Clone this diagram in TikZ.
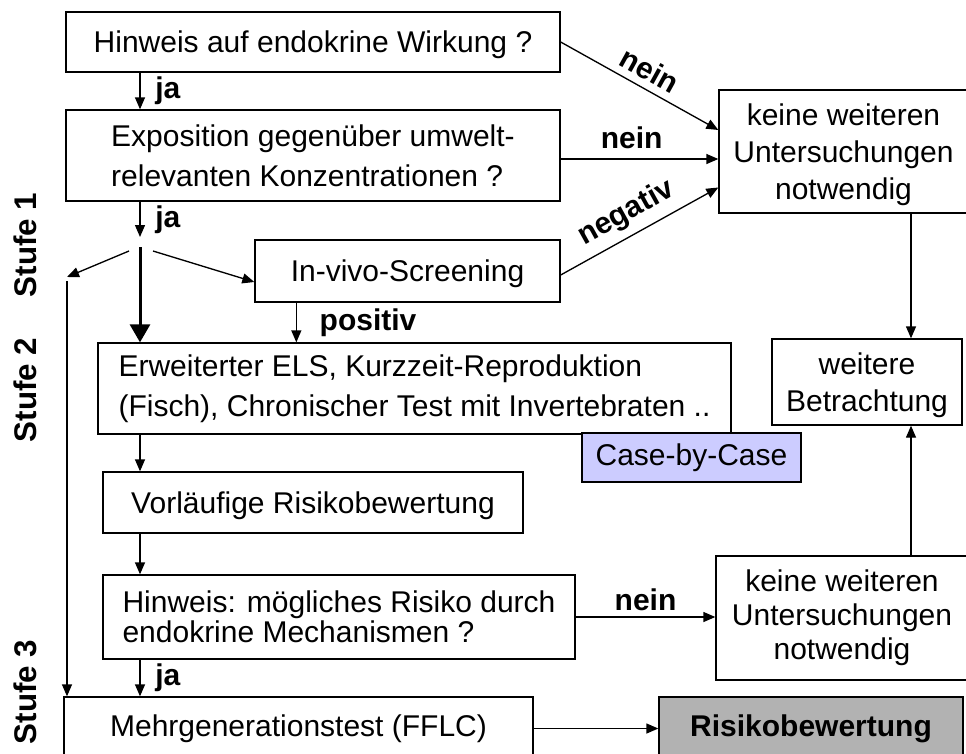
\documentclass[tikz,border=0pt]{standalone}
\usepackage{fontspec}
\setmainfont{Liberation Sans}
\usepackage{xcolor}
\usetikzlibrary{arrows.meta,calc}
\newcommand{\bxfont}{\fontsize{22.5}{27}\selectfont}
\definecolor{casefill}{RGB}{204,204,255}
\definecolor{riskfill}{RGB}{178,178,178}

\begin{document}
\begin{tikzpicture}[x=0.75pt,y=0.75pt,yscale=-1,xscale=1,
  kasten/.style={draw, line width=1pt, font=\bxfont, inner sep=0pt},
  einzeilig/.style={text depth=0pt},
  pfeil/.style={line width=1pt, -{Triangle[length=9pt,width=7.5pt]}},
  dickpfeil/.style={line width=2.25pt, -{Triangle[length=13.5pt,width=15pt]}},
  lab/.style={font=\bxfont\bfseries, inner sep=2pt},
  stufe/.style={font=\fontsize{23.5}{28}\selectfont\bfseries, rotate=90}]
\clip (0,0) rectangle (966,753);
% Kaesten
\node[kasten, einzeilig, minimum width=370.5pt, minimum height=45pt] (hinweis) at (313,42) {Hinweis auf endokrine Wirkung ?};
\node[kasten, align=left, minimum width=370.5pt, minimum height=68.25pt] (expo) at (313,155.5) {Exposition gegenüber umwelt-\\[3pt]relevanten Konzentrationen ?};
\node[kasten, align=center, minimum width=186.75pt, minimum height=92.25pt, text depth=0pt] (keine1) at (843.5,151.5) {keine weiteren\\[1pt]Untersuchungen\\[1pt]notwendig};
\node[kasten, einzeilig, minimum width=228.75pt, minimum height=46.5pt] (screen) at (407.5,271) {In-vivo-Screening};
\node[kasten, align=left, minimum width=474.75pt, minimum height=68.25pt] (erw) at (414.5,388.5) {Erweiterter ELS, Kurzzeit-Reproduktion\\[3pt](Fisch), Chronischer Test mit Invertebraten ..};
\node[kasten, fill=casefill, minimum width=164.25pt, minimum height=36.75pt] (case) at (691.5,457.5) {Case-by-Case};
\node[kasten, align=center, minimum width=142.5pt, minimum height=64.5pt, text depth=0pt] (weiter) at (867,382) {weitere\\[0.75pt]Betrachtung};
\node[kasten, einzeilig, minimum width=315pt, minimum height=45.75pt] (vorl) at (313,502.5) {Vorläufige Risikobewertung};
\node[kasten, align=left, minimum width=354pt, minimum height=63pt] (hinweis2) at (339,617) {Hinweis: mögliches Risiko durch\\[-4.5pt]endokrine Mechanismen ?};
\node[kasten, align=center, minimum width=189pt, minimum height=93pt] (keine2) at (842,618) {keine weiteren\\[-1.5pt]Untersuchungen\\[-1.5pt]notwendig};
\node[kasten, minimum width=351.75pt, minimum height=47.25pt] (mehr) at (298.5,728.5) {Mehrgenerationstest (FFLC)};
\node[kasten, fill=riskfill, font=\bxfont\bfseries, minimum width=228pt, minimum height=47.25pt] (risiko) at (811,728.5) {Risikobewertung};
% Stufen
\node[stufe] (stufe1) at (25,245) {Stufe 1};
\node[stufe] (stufe2) at (25,390) {Stufe 2};
\node[stufe] (stufe3) at (25,692) {Stufe 3};
% Hilfspunkte
\coordinate (ax) at (140,0);
\coordinate (fork) at (140,237);
\coordinate (links) at (67,277);
\coordinate (rx) at (911,0);
% Pfeile
\draw[pfeil] (hinweis.south -| ax) -- node[lab, right, xshift=9pt]{ja} (expo.north -| ax);
\draw[pfeil] (expo.south -| ax) -- node[lab, right, xshift=9pt]{ja} (fork);
\draw[pfeil] ($(fork)+(-11,14)$) -- (links);
\draw[dickpfeil] ($(fork)+(0,10)$) -- (erw.north -| ax);
\draw[pfeil] ($(fork)+(13,14)$) -- ($(screen.west)+(0,11)$);
\draw[pfeil] ($(links)+(0,4)$) -- (mehr.north -| links);
\draw[pfeil] ($(screen.south west)+(42,0)$) coordinate (px) -- node[lab, right, xshift=15pt]{positiv} (px |- erw.north);
\draw[pfeil] (hinweis.east) -- node[lab, above=4pt, rotate=-29, pos=0.52]{nein} ($(keine1.west)+(0,-21.5)$);
\draw[pfeil] ($(expo.east)+(0,3.5)$) coordinate (nx) -- node[lab, above, pos=0.45, yshift=5pt]{nein} (nx -| keine1.west);
\draw[pfeil] ($(screen.east)+(0,4)$) -- node[lab, above=4pt, rotate=29, pos=0.47]{negativ} ($(keine1.west)+(0,36)$);
\draw[pfeil] (keine1.south -| rx) -- (weiter.north -| rx);
\draw[pfeil] (keine2.north -| rx) -- (weiter.south -| rx);
\draw[pfeil] (erw.south -| ax) -- (vorl.north -| ax);
\draw[pfeil] (vorl.south -| ax) -- (hinweis2.north -| ax);
\draw[pfeil] (hinweis2.south -| ax) -- node[lab, right, xshift=9pt]{ja} (mehr.north -| ax);
\draw[pfeil] (hinweis2.east) -- node[lab, above, yshift=2pt]{nein} (hinweis2.east -| keine2.west);
\draw[pfeil] (mehr.east) -- (mehr.east -| risiko.west);
\end{tikzpicture}
\end{document}
